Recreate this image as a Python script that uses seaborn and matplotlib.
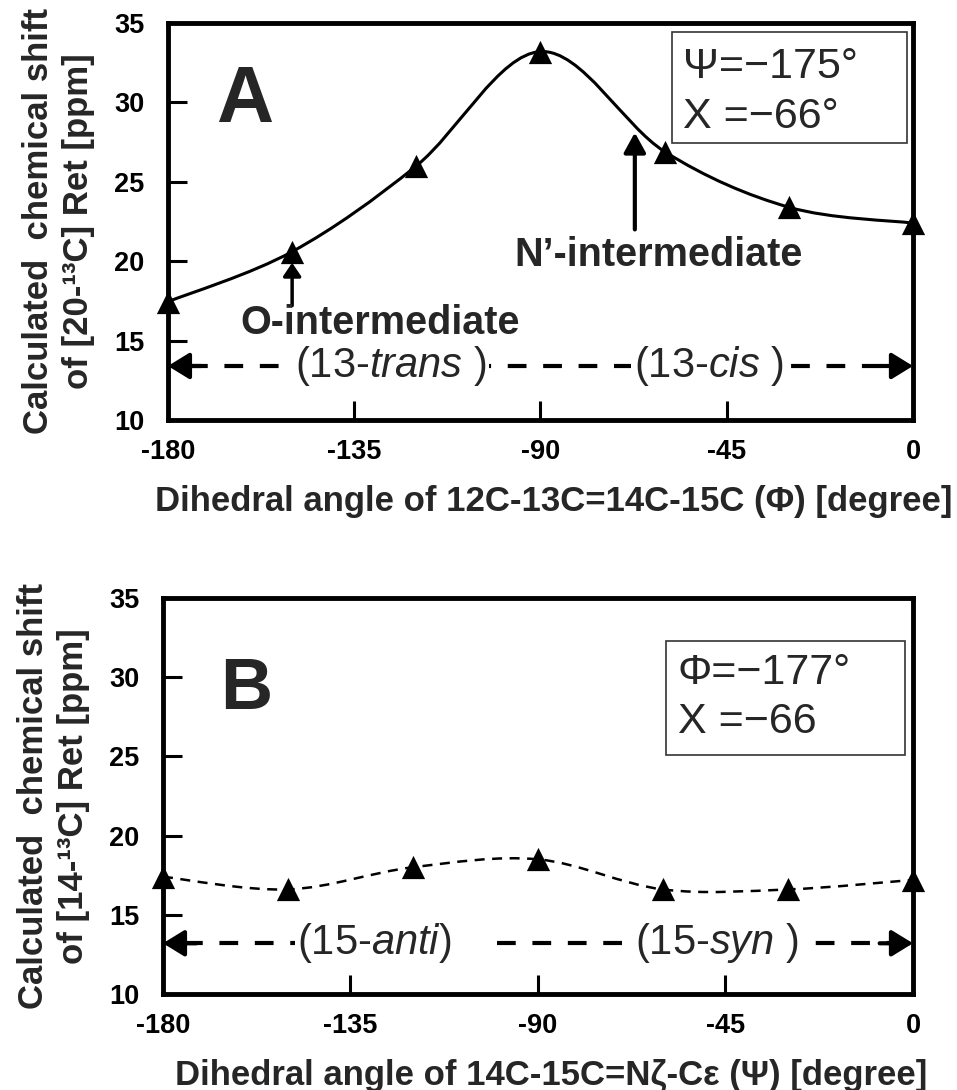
import numpy as np
import pandas as pd
import matplotlib
matplotlib.use('Agg')
import matplotlib.pyplot as plt
import seaborn as sns
from matplotlib.path import Path
from matplotlib.patches import PathPatch, Rectangle

# ---- data ----
phi_deg = [-180, -150, -120, -90, -60, -30, 0]
shift_20C = [17.45, 20.6, 26.0, 33.2, 26.9, 23.4, 22.4]
psi_deg = [-180, -150, -120, -90, -60, -30, 0]
shift_14C = [17.4, 16.6, 18.0, 18.5, 16.6, 16.6, 17.2]
x_ticks = [-180, -135, -90, -45, 0]
y_ticks = [10, 15, 20, 25, 30, 35]

sns.set_theme(style='white')
plt.rcParams['font.family'] = ['Liberation Sans', 'DejaVu Sans']
plt.rcParams['mathtext.fontset'] = 'custom'
plt.rcParams['mathtext.rm'] = 'Liberation Sans'
plt.rcParams['mathtext.it'] = 'Liberation Sans:italic'
plt.rcParams['mathtext.bf'] = 'Liberation Sans:bold'

fig = plt.figure(figsize=(9.57, 10.9), dpi=100)
axA = fig.add_axes([0.1755, 0.6147, 0.7785, 0.3642])
axB = fig.add_axes([0.1703, 0.0881, 0.7837, 0.3633])


def smooth_path(x, y):
    P = np.column_stack([x, y]).astype(float)
    n = len(P)
    verts = [P[0]]
    codes = [Path.MOVETO]
    for i in range(n - 1):
        p0 = P[max(i - 1, 0)]
        p1 = P[i]
        p2 = P[i + 1]
        p3 = P[min(i + 2, n - 1)]
        verts += [p1 + (p2 - p0) / 6, p2 - (p3 - p1) / 6, p2]
        codes += [Path.CURVE4] * 3
    return Path(verts, codes)


def style(ax, xlabel, ylabel):
    ax.set_xlim(-180, 0)
    ax.set_ylim(10, 35)
    ax.set_xticks(x_ticks)
    ax.set_yticks(y_ticks)
    ax.set_xticklabels([str(t) for t in x_ticks])
    ax.set_yticklabels([str(t) for t in y_ticks])
    ax.tick_params(direction='in', length=14, width=2.2, labelsize=19.5,
                   colors='black', bottom=True, left=True)
    ax.tick_params(axis='x', pad=14)
    ax.tick_params(axis='y', pad=17)
    for lab in ax.get_xticklabels() + ax.get_yticklabels():
        lab.set_fontweight('bold')
    for sp in ax.spines.values():
        sp.set_linewidth(3.5)
        sp.set_color('black')
        sp.set_visible(True)
    ax.set_xlabel(xlabel, fontsize=25, fontweight='bold', labelpad=14)
    ax.xaxis.label.set_x(0.518)
    ax.set_ylabel(ylabel, fontsize=25, fontweight='bold', labelpad=14,
                  linespacing=1.25)
    ax.set_facecolor('white')


def double_arrow(ax, y, gap=None):
    dash = dict(ls=(0, (4.5, 4)), lw=3, color='black', dash_capstyle='butt',
                zorder=3)
    if gap is None:
        ax.plot([-175, -5], [y, y], **dash)
    else:
        ax.plot([-175, gap[0]], [y, y], **dash)
        ax.plot([gap[1], -5], [y, y], **dash)
    ap = dict(arrowstyle='-|>,head_length=0.65,head_width=0.4', mutation_scale=20,
              lw=3, color='black', shrinkA=0, shrinkB=0)
    ax.annotate('', xy=(-180, y), xytext=(-172, y), arrowprops=ap, zorder=4)
    ax.annotate('', xy=(0, y), xytext=(-8, y), arrowprops=ap, zorder=4)


# ---------------- Panel A ----------------
dfA = pd.DataFrame({'phi': phi_deg, 'shift': shift_20C})
axA.add_patch(PathPatch(smooth_path(dfA['phi'], dfA['shift']), fill=False,
                        lw=2.2, edgecolor='black', clip_on=False, zorder=4))
sns.scatterplot(data=dfA, x='phi', y='shift', marker='^', s=280, color='black',
                edgecolor='black', linewidth=0, ax=axA, zorder=6, clip_on=False)
style(axA, 'Dihedral angle of 12C-13C=14C-15C (Φ) [degree]',
      'Calculated  chemical shift\nof [20-¹³C] Ret [ppm]')

axA.text(-161.4, 28.77, 'A', fontsize=57, fontweight='bold', ha='center',
         va='baseline')
axA.add_patch(Rectangle((-58.2, 27.45), 56.7, 6.98, fill=False, lw=1.2,
                        edgecolor='#333333', zorder=2))
axA.text(-55.6, 31.54, 'Ψ=−175°', fontsize=31, va='baseline')
axA.text(-55.6, 28.4, 'X =−66°', fontsize=31, va='baseline')

axA.annotate('', xy=(-67.2, 28.1), xytext=(-67.2, 22.0),
             arrowprops=dict(arrowstyle='-|>,head_length=0.6,head_width=0.33',
                             mutation_scale=20, lw=3, color='black',
                             shrinkA=0, shrinkB=0))
axA.text(-61.5, 20.4, 'N’-intermediate', fontsize=28.5, fontweight='bold',
         ha='center', va='center')
axA.annotate('', xy=(-150, 19.9), xytext=(-150, 17.2),
             arrowprops=dict(arrowstyle='-|>,head_length=0.4,head_width=0.27',
                             mutation_scale=20, lw=2.5, color='black',
                             shrinkA=0, shrinkB=0))
axA.text(-128.8, 16.1, 'O-intermediate', fontsize=28.5, fontweight='bold',
         ha='center', va='center')

double_arrow(axA, 13.4)
box = dict(facecolor='white', edgecolor='none', pad=2)
axA.text(-126.2, 13.4, r'(13-$\mathit{trans}$ )', fontsize=30, ha='center',
         va='center', bbox=box, zorder=5)
axA.text(-49.4, 13.4, r'(13-$\mathit{cis}$ )', fontsize=30, ha='center',
         va='center', bbox=box, zorder=5)

# ---------------- Panel B ----------------
dfB = pd.DataFrame({'psi': psi_deg, 'shift': shift_14C})
axB.add_patch(PathPatch(smooth_path(dfB['psi'], dfB['shift']), fill=False,
                        lw=1.8, ls=(0, (4, 3)), edgecolor='black', clip_on=False,
                        zorder=4))
sns.scatterplot(data=dfB, x='psi', y='shift', marker='^', s=280, color='black',
                edgecolor='black', linewidth=0, ax=axB, zorder=6, clip_on=False)
style(axB, 'Dihedral angle of 14C-15C=Nζ-Cε (Ψ) [degree]',
      'Calculated  chemical shift\nof [14-¹³C] Ret [ppm]')

axB.text(-160, 28.0, 'B', fontsize=52, fontweight='bold', ha='center',
         va='baseline')
axB.add_patch(Rectangle((-59.2, 25.1), 57.2, 7.2, fill=False, lw=1.2,
                        edgecolor='#333333', zorder=2))
axB.text(-56.5, 29.6, 'Φ=−177°', fontsize=31, va='baseline')
axB.text(-56.5, 26.5, 'X =−66', fontsize=31, va='baseline')

double_arrow(axB, 13.2, gap=(-110.9, -99.9))
axB.text(-129.2, 13.2, r'(15-$\mathit{anti}$)', fontsize=30, ha='center',
         va='center', bbox=box, zorder=5)
axB.text(-47.2, 13.2, r'(15-$\mathit{syn}$ )', fontsize=30, ha='center',
         va='center', bbox=box, zorder=5)

fig.savefig('out.png', dpi=100, facecolor='white')
